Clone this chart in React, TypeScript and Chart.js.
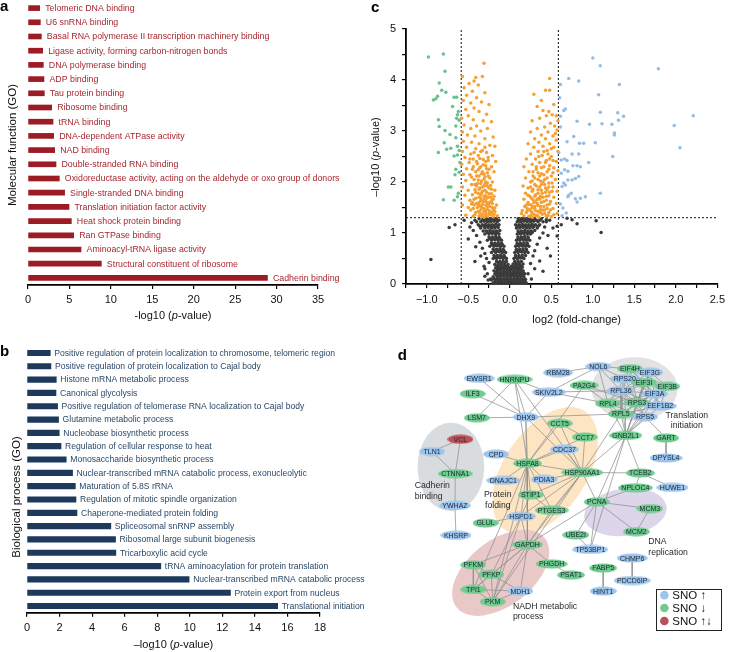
import React, { useEffect, useRef } from 'react';
import { Chart, registerables } from 'chart.js';

Chart.register(...registerables);

const SANS = "'Liberation Sans', Arial, Helvetica, sans-serif";
Chart.defaults.font.family = SANS;
Chart.defaults.color = '#000';

// ---------------- Panel a: molecular function (GO)
const mfTerms = [
  'Telomeric DNA binding',
  'U6 snRNA binding',
  'Basal RNA polymerase II transcription machinery binding',
  'Ligase activity, forming carbon-nitrogen bonds',
  'DNA polymerase binding',
  'ADP binding',
  'Tau protein binding',
  'Ribosome binding',
  'tRNA binding',
  'DNA-dependent ATPase activity',
  'NAD binding',
  'Double-stranded RNA binding',
  'Oxidoreductase activity, acting on the aldehyde or oxo group of donors',
  'Single-stranded DNA binding',
  'Translation initiation factor activity',
  'Heat shock protein binding',
  'Ran GTPase binding',
  'Aminoacyl-tRNA ligase activity',
  'Structural constituent of ribosome',
  'Cadherin binding',
];
const mfValues = [1.41, 1.49, 1.61, 1.77, 1.85, 1.93, 1.97, 2.86, 3.02, 3.1, 3.22, 3.38, 3.78, 4.42, 4.95, 5.23, 5.51, 6.4, 8.85, 28.9];
const mfAxisMax = 35;
const mfTickStep = 5;

// ---------------- Panel b: biological process (GO)
const bpTerms = [
  'Positive regulation of protein localization to chromosome, telomeric region',
  'Positive regulation of protein localization to Cajal body',
  'Histone mRNA metabolic process',
  'Canonical glycolysis',
  'Positive regulation of telomerase RNA localization to Cajal body',
  'Glutamine metabolic process',
  'Nucleobase biosynthetic process',
  'Regulation of cellular response to heat',
  'Monosaccharide biosynthetic process',
  'Nuclear-transcribed mRNA catabolic process, exonucleolytic',
  'Maturation of 5.8S rRNA',
  'Regulation of mitotic spindle organization',
  'Chaperone-mediated protein folding',
  'Spliceosomal snRNP assembly',
  'Ribosomal large subunit biogenesis',
  'Tricarboxylic acid cycle',
  'tRNA aminoacylation for protein translation',
  'Nuclear-transcribed mRNA catabolic process',
  'Protein export from nucleus',
  'Translational initiation',
];
const bpValues = [1.43, 1.47, 1.8, 1.78, 1.88, 1.94, 1.98, 2.09, 2.41, 2.8, 2.97, 3.01, 3.07, 5.15, 5.44, 5.46, 8.22, 9.96, 12.5, 15.4];
const bpAxisMax = 18;
const bpTickStep = 2;

// ---------------- Panel c: volcano plot  [log2 fold-change, -log10 p]
const volcanoXRange = [-1.25, 2.5];
const volcanoYRange = [0, 5];
const foldCutoff = 0.585;
const pCutoff = 1.3;

const volcanoGreen: number[][] = [
  [-0.98, 4.45], [-0.8, 4.51], [-0.78, 4.17], [-0.85, 3.94], [-0.82, 3.8], [-0.77, 3.76], [-0.87, 3.68], [-0.89, 3.63],
  [-0.92, 3.61], [-0.67, 3.66], [-0.64, 3.66], [-0.69, 3.48], [-0.62, 3.38], [-0.63, 3.32], [-0.64, 3.25], [-0.86, 3.22],
  [-0.61, 3.21], [-0.65, 3.1], [-0.85, 3.09], [-0.78, 3.01], [-0.72, 2.93], [-0.65, 2.87], [-0.79, 2.77], [-0.63, 2.7],
  [-0.71, 2.66], [-0.76, 2.64], [-0.61, 2.62], [-0.86, 2.58], [-0.63, 2.53], [-0.67, 2.51], [-0.6, 2.38], [-0.65, 2.25],
  [-0.61, 2.19], [-0.66, 2.14], [-0.71, 1.9], [-0.74, 1.9], [-0.62, 1.78], [-0.63, 1.71], [-0.8, 1.65], [-0.67, 1.64],
];

const volcanoBlue: number[][] = [
  [1.0, 4.43], [1.09, 4.28], [1.79, 4.22], [0.71, 4.03], [0.83, 3.98], [0.61, 3.91], [1.32, 3.91], [1.07, 3.71],
  [0.6, 3.65], [0.67, 3.43], [0.65, 3.4], [1.09, 3.37], [1.3, 3.36], [0.61, 3.29], [1.37, 3.29], [2.21, 3.3],
  [0.81, 3.19], [1.23, 3.13], [1.11, 3.14], [0.96, 3.13], [1.31, 3.21], [1.98, 3.11], [0.61, 3.08], [1.26, 2.96],
  [1.26, 2.92], [0.69, 2.79], [1.03, 2.77], [0.84, 2.76], [0.89, 2.76], [0.77, 2.89], [2.05, 2.67], [0.59, 2.58],
  [0.75, 2.55], [0.83, 2.55], [1.24, 2.5], [0.66, 2.45], [0.62, 2.43], [0.69, 2.42], [0.95, 2.38], [0.76, 2.32],
  [0.81, 2.32], [0.85, 2.3], [0.66, 2.24], [0.7, 2.21], [0.62, 2.17], [0.83, 2.11], [0.79, 2.07], [0.7, 2.04],
  [0.75, 2.04], [0.65, 1.98], [0.67, 1.94], [0.63, 1.91], [1.09, 1.78], [0.74, 1.78], [0.71, 1.74], [0.7, 1.71],
  [0.91, 1.71], [0.85, 1.68], [0.79, 1.67], [0.81, 1.61], [0.61, 1.57], [0.64, 1.49], [0.68, 1.39], [0.63, 1.34],
];

const volcanoOrange: number[][] = [
  // down-regulated side
  [-0.31, 4.33], [-0.33, 4.07], [-0.41, 4.05], [-0.43, 3.98], [-0.57, 4.07], [-0.49, 3.93], [-0.55, 3.85], [-0.38, 3.9],
  [-0.45, 3.78], [-0.3, 3.75], [-0.52, 3.7], [-0.4, 3.65], [-0.56, 3.6], [-0.47, 3.55], [-0.34, 3.57], [-0.25, 3.52],
  [-0.43, 3.45], [-0.53, 3.42], [-0.37, 3.38], [-0.28, 3.33], [-0.5, 3.3], [-0.58, 3.25], [-0.44, 3.22], [-0.32, 3.2],
  [-0.22, 3.18], [-0.55, 3.12], [-0.4, 3.1], [-0.47, 3.05], [-0.27, 3.05], [-0.35, 3.0], [-0.57, 2.98], [-0.51, 2.92],
  [-0.42, 2.9], [-0.2, 2.88], [-0.3, 2.85], [-0.56, 2.8], [-0.46, 2.78], [-0.37, 2.75], [-0.24, 2.72], [-0.18, 2.7],
  [-0.52, 2.68], [-0.41, 2.65], [-0.33, 2.62], [-0.28, 2.58], [-0.57, 2.6], [-0.47, 2.55], [-0.38, 2.52], [-0.21, 2.52],
  [-0.54, 2.48], [-0.44, 2.45], [-0.32, 2.44], [-0.26, 2.42], [-0.17, 2.4], [-0.49, 2.38], [-0.39, 2.36], [-0.58, 2.35],
  [-0.35, 2.3], [-0.29, 2.32], [-0.22, 2.3], [-0.52, 2.26], [-0.45, 2.25], [-0.41, 2.2], [-0.33, 2.2], [-0.27, 2.18],
  [-0.19, 2.2], [-0.56, 2.15], [-0.48, 2.14], [-0.37, 2.12], [-0.3, 2.1], [-0.24, 2.08], [-0.43, 2.05], [-0.34, 2.02],
  [-0.53, 2.03], [-0.27, 1.98], [-0.21, 2.0], [-0.39, 1.97], [-0.46, 1.95], [-0.31, 1.92], [-0.57, 1.9], [-0.36, 1.88],
  [-0.25, 1.88], [-0.42, 1.85], [-0.5, 1.84], [-0.18, 1.84], [-0.33, 1.82], [-0.28, 1.8], [-0.38, 1.78], [-0.22, 1.77],
  [-0.45, 1.75], [-0.54, 1.74], [-0.31, 1.72], [-0.26, 1.7], [-0.35, 1.68], [-0.41, 1.68], [-0.2, 1.66], [-0.48, 1.64],
  [-0.29, 1.62], [-0.24, 1.6], [-0.37, 1.6], [-0.33, 1.56], [-0.43, 1.55], [-0.57, 1.55], [-0.16, 1.55], [-0.27, 1.52],
  [-0.21, 1.5], [-0.39, 1.5], [-0.31, 1.48], [-0.35, 1.45], [-0.25, 1.44], [-0.47, 1.45], [-0.18, 1.42], [-0.29, 1.4],
  [-0.41, 1.4], [-0.33, 1.37], [-0.23, 1.36], [-0.37, 1.34], [-0.27, 1.33], [-0.53, 1.35], [-0.2, 1.32], [-0.44, 1.33],
  [-0.15, 1.34], [-0.31, 1.31], [-0.35, 2.6], [-0.29, 2.4], [-0.25, 2.25], [-0.4, 2.4], [-0.36, 2.28], [-0.31, 2.15],
  [-0.46, 2.1], [-0.4, 1.92], [-0.3, 1.95], [-0.23, 1.93], [-0.35, 1.75], [-0.28, 1.68], [-0.4, 1.58], [-0.23, 1.7],
  [-0.32, 1.62], [-0.5, 1.5], [-0.26, 1.56], [-0.36, 1.53], [-0.3, 1.44], [-0.22, 1.4], [-0.38, 1.42], [-0.45, 1.6],
  [-0.34, 1.33], [-0.29, 1.35], [-0.25, 1.38], [-0.19, 1.37], [-0.42, 1.36], [-0.36, 1.39], [-0.31, 1.42], [-0.27, 1.46],
  [-0.2, 1.45], [-0.44, 1.48], [-0.34, 1.5], [-0.24, 1.52], [-0.18, 1.49], [-0.29, 1.55], [-0.38, 1.56], [-0.21, 1.58],
  [-0.46, 1.57], [-0.27, 1.6], [-0.35, 1.63], [-0.31, 1.66], [-0.22, 1.63], [-0.43, 1.66], [-0.37, 1.7], [-0.29, 1.73],
  [-0.19, 1.72], [-0.34, 1.78], [-0.25, 1.77], [-0.41, 1.8], [-0.3, 1.84], [-0.37, 1.86], [-0.22, 1.86], [-0.33, 1.9],
  [-0.27, 1.92], [-0.42, 1.95], [-0.35, 1.97], [-0.29, 2.0], [-0.38, 2.04], [-0.31, 2.06], [-0.26, 2.12], [-0.4, 2.12],
  [-0.34, 2.16], [-0.28, 2.26], [-0.38, 2.24], [-0.44, 2.3], [-0.32, 2.34], [-0.26, 2.48], [-0.36, 2.46], [-0.43, 2.58],
  [-0.3, 2.68], [-0.48, 2.45],
  // up-regulated side
  [0.48, 4.03], [0.43, 3.8], [0.48, 3.8], [0.38, 3.6], [0.29, 3.72], [0.53, 3.52], [0.33, 3.48], [0.4, 3.4],
  [0.47, 3.38], [0.56, 3.3], [0.51, 3.32], [0.44, 3.3], [0.36, 3.25], [0.58, 3.2], [0.27, 3.2], [0.49, 3.15],
  [0.54, 3.1], [0.42, 3.08], [0.33, 3.05], [0.57, 3.02], [0.46, 2.98], [0.25, 2.98], [0.38, 2.92], [0.52, 2.9],
  [0.3, 2.85], [0.43, 2.85], [0.56, 2.82], [0.35, 2.78], [0.48, 2.75], [0.22, 2.75], [0.4, 2.7], [0.29, 2.68],
  [0.53, 2.68], [0.45, 2.62], [0.34, 2.6], [0.58, 2.6], [0.25, 2.55], [0.39, 2.52], [0.5, 2.5], [0.2, 2.45],
  [0.31, 2.45], [0.44, 2.42], [0.56, 2.4], [0.36, 2.38], [0.27, 2.35], [0.48, 2.32], [0.17, 2.3], [0.41, 2.3],
  [0.53, 2.28], [0.32, 2.25], [0.58, 2.22], [0.23, 2.2], [0.45, 2.2], [0.38, 2.16], [0.28, 2.12], [0.5, 2.12],
  [0.19, 2.08], [0.34, 2.05], [0.42, 2.05], [0.55, 2.05], [0.25, 2.0], [0.47, 1.98], [0.3, 1.95], [0.38, 1.95],
  [0.16, 1.92], [0.52, 1.9], [0.22, 1.88], [0.43, 1.88], [0.34, 1.85], [0.27, 1.82], [0.57, 1.82], [0.48, 1.8],
  [0.19, 1.78], [0.39, 1.78], [0.31, 1.75], [0.24, 1.72], [0.44, 1.72], [0.53, 1.7], [0.35, 1.68], [0.17, 1.66],
  [0.28, 1.65], [0.49, 1.62], [0.41, 1.62], [0.22, 1.6], [0.33, 1.58], [0.56, 1.58], [0.26, 1.55], [0.45, 1.55],
  [0.18, 1.52], [0.37, 1.52], [0.3, 1.48], [0.52, 1.48], [0.24, 1.46], [0.42, 1.45], [0.15, 1.44], [0.34, 1.42],
  [0.2, 1.4], [0.47, 1.4], [0.27, 1.38], [0.39, 1.37], [0.57, 1.38], [0.31, 1.34], [0.17, 1.34], [0.23, 1.33],
  [0.44, 1.33], [0.35, 1.31], [0.5, 1.32], [0.27, 1.31], [0.2, 1.55], [0.29, 1.6], [0.36, 1.9], [0.32, 2.3],
  [0.46, 2.55], [0.4, 2.0], [0.25, 1.9], [0.37, 1.72], [0.14, 1.38], [0.55, 2.95], [0.3, 1.52], [0.4, 1.45],
  [0.21, 1.48], [0.33, 1.66], [0.26, 1.42], [0.45, 1.85], [0.36, 2.12], [0.28, 2.2],
  [0.25, 1.34], [0.29, 1.37], [0.33, 1.35], [0.37, 1.4], [0.42, 1.38], [0.46, 1.35], [0.53, 1.36], [0.21, 1.43],
  [0.31, 1.44], [0.37, 1.46], [0.45, 1.48], [0.49, 1.45], [0.27, 1.5], [0.34, 1.54], [0.41, 1.52], [0.48, 1.57],
  [0.23, 1.56], [0.31, 1.62], [0.38, 1.6], [0.44, 1.64], [0.26, 1.68], [0.36, 1.66], [0.4, 1.7], [0.47, 1.73],
  [0.3, 1.72], [0.22, 1.74], [0.34, 1.78], [0.43, 1.8], [0.51, 1.82], [0.28, 1.86], [0.38, 1.84], [0.47, 1.9],
  [0.32, 1.92], [0.42, 1.95], [0.51, 1.98], [0.27, 2.02], [0.37, 2.02], [0.45, 2.08], [0.3, 2.08], [0.41, 2.14],
  [0.52, 2.18], [0.34, 2.18], [0.47, 2.25], [0.38, 2.28], [0.43, 2.38], [0.52, 2.42], [0.35, 2.5], [0.48, 2.45],
  [0.41, 2.6], [0.5, 2.65],
];

const volcanoGray: number[][] = [
  // dense core near zero
  [-0.2, 0.02], [-0.16, 0.02], [-0.12, 0.03], [-0.08, 0.02], [-0.04, 0.02], [0.0, 0.03], [0.04, 0.02], [0.08, 0.02], [0.12, 0.03], [0.16, 0.02], [0.2, 0.02],
  [-0.18, 0.05], [-0.14, 0.05], [-0.1, 0.05], [-0.06, 0.05], [-0.02, 0.05], [0.02, 0.05], [0.06, 0.05], [0.1, 0.05], [0.14, 0.05], [0.18, 0.05],
  [-0.22, 0.08], [-0.17, 0.09], [-0.13, 0.08], [-0.09, 0.08], [-0.05, 0.09], [-0.01, 0.08], [0.03, 0.08], [0.07, 0.09], [0.11, 0.08], [0.15, 0.08], [0.19, 0.09],
  [-0.19, 0.11], [-0.15, 0.11], [-0.11, 0.11], [-0.07, 0.11], [-0.03, 0.11], [0.01, 0.11], [0.05, 0.11], [0.09, 0.11], [0.13, 0.11], [0.17, 0.11],
  [-0.2, 0.14], [-0.15, 0.14], [-0.11, 0.15], [-0.07, 0.14], [-0.03, 0.14], [0.01, 0.15], [0.05, 0.14], [0.09, 0.14], [0.13, 0.15], [0.17, 0.14],
  [-0.16, 0.17], [-0.12, 0.17], [-0.08, 0.17], [-0.04, 0.17], [0.0, 0.17], [0.04, 0.17], [0.08, 0.17], [0.12, 0.17], [0.16, 0.17],
  [-0.18, 0.2], [-0.14, 0.21], [-0.1, 0.2], [-0.06, 0.2], [-0.02, 0.21], [0.02, 0.2], [0.06, 0.2], [0.1, 0.21], [0.14, 0.2], [0.18, 0.2],
  [-0.16, 0.23], [-0.12, 0.23], [-0.08, 0.23], [-0.04, 0.23], [0.0, 0.23], [0.04, 0.23], [0.08, 0.23], [0.12, 0.23], [0.16, 0.23],
  [-0.19, 0.26], [-0.15, 0.26], [-0.11, 0.27], [-0.07, 0.26], [-0.03, 0.26], [0.01, 0.27], [0.05, 0.26], [0.09, 0.26], [0.13, 0.27], [0.16, 0.26],
  [-0.15, 0.29], [-0.11, 0.29], [-0.07, 0.29], [-0.03, 0.29], [0.01, 0.29], [0.05, 0.29], [0.09, 0.29], [0.13, 0.29],
  [-0.17, 0.32], [-0.13, 0.32], [-0.09, 0.33], [-0.05, 0.32], [-0.01, 0.32], [0.03, 0.33], [0.07, 0.32], [0.11, 0.32], [0.15, 0.33],
  [-0.15, 0.35], [-0.11, 0.35], [-0.07, 0.35], [-0.03, 0.35], [0.02, 0.35], [0.06, 0.35], [0.1, 0.35], [0.14, 0.35],
  [-0.18, 0.38], [-0.14, 0.38], [-0.1, 0.39], [-0.06, 0.38], [-0.02, 0.38], [0.04, 0.39], [0.08, 0.38], [0.12, 0.38], [0.16, 0.39],
  [-0.14, 0.41], [-0.1, 0.41], [-0.06, 0.41], [0.07, 0.41], [0.11, 0.41],
  [-0.16, 0.44], [-0.12, 0.44], [-0.08, 0.45], [-0.04, 0.44], [0.06, 0.44], [0.1, 0.45], [0.14, 0.44],
  // left arm
  [-0.2, 0.5], [-0.16, 0.5], [-0.12, 0.51], [-0.08, 0.5], [-0.04, 0.5],
  [-0.18, 0.53], [-0.14, 0.53], [-0.1, 0.53], [-0.06, 0.53],
  [-0.19, 0.56], [-0.15, 0.56], [-0.11, 0.57], [-0.07, 0.56],
  [-0.22, 0.62], [-0.17, 0.62], [-0.13, 0.63], [-0.09, 0.62], [-0.05, 0.62],
  [-0.19, 0.65], [-0.15, 0.65], [-0.11, 0.65], [-0.07, 0.65],
  [-0.2, 0.68], [-0.16, 0.68], [-0.12, 0.69], [-0.08, 0.68],
  [-0.24, 0.74], [-0.19, 0.74], [-0.15, 0.75], [-0.11, 0.74], [-0.07, 0.74],
  [-0.21, 0.77], [-0.17, 0.77], [-0.13, 0.77], [-0.09, 0.77],
  [-0.22, 0.8], [-0.18, 0.8], [-0.14, 0.81], [-0.1, 0.8],
  [-0.27, 0.86], [-0.22, 0.86], [-0.18, 0.87], [-0.14, 0.86], [-0.1, 0.86],
  [-0.24, 0.89], [-0.2, 0.89], [-0.16, 0.89], [-0.12, 0.89],
  [-0.25, 0.92], [-0.21, 0.92], [-0.17, 0.93], [-0.13, 0.92],
  [-0.3, 0.98], [-0.25, 0.98], [-0.21, 0.99], [-0.17, 0.98], [-0.13, 0.98],
  [-0.27, 1.01], [-0.23, 1.01], [-0.19, 1.01], [-0.15, 1.01],
  [-0.32, 1.04], [-0.28, 1.04], [-0.24, 1.05], [-0.2, 1.04], [-0.16, 1.04], [-0.12, 1.05],
  [-0.35, 1.1], [-0.3, 1.1], [-0.26, 1.11], [-0.22, 1.1], [-0.18, 1.1], [-0.14, 1.11],
  [-0.36, 1.13], [-0.31, 1.13], [-0.27, 1.13], [-0.23, 1.13], [-0.19, 1.13], [-0.15, 1.13],
  [-0.38, 1.16], [-0.33, 1.16], [-0.29, 1.17], [-0.25, 1.16], [-0.21, 1.16], [-0.17, 1.17], [-0.13, 1.16],
  [-0.4, 1.22], [-0.35, 1.22], [-0.31, 1.23], [-0.27, 1.22], [-0.23, 1.22], [-0.19, 1.23], [-0.15, 1.22],
  [-0.42, 1.25], [-0.33, 1.25], [-0.29, 1.25], [-0.25, 1.25], [-0.21, 1.25], [-0.17, 1.25], [-0.13, 1.25],
  [-0.37, 1.28], [-0.32, 1.28], [-0.28, 1.28], [-0.24, 1.28], [-0.2, 1.28], [-0.16, 1.28],
  [-0.46, 1.2], [-0.44, 1.05], [-0.4, 0.95], [-0.36, 0.82], [-0.33, 0.7], [-0.3, 0.6], [-0.28, 0.5], [-0.25, 0.42],
  [-0.3, 0.3], [-0.27, 0.2], [-0.42, 0.44], [-0.5, 0.88], [-0.41, 0.73], [-0.31, 0.35], [-0.23, 0.1], [-0.35, 0.55],
  [-0.95, 0.48], [-0.73, 1.11], [-0.66, 1.16], [-0.55, 1.25], [-0.48, 1.12], [-0.26, 0.08], [-0.3, 0.15],
  // right arm
  [0.05, 0.5], [0.09, 0.5], [0.13, 0.51], [0.17, 0.5],
  [0.07, 0.53], [0.11, 0.53], [0.15, 0.53],
  [0.07, 0.56], [0.11, 0.56], [0.15, 0.57], [0.19, 0.56],
  [0.06, 0.62], [0.1, 0.62], [0.14, 0.63], [0.18, 0.62], [0.22, 0.62],
  [0.08, 0.65], [0.12, 0.65], [0.16, 0.65], [0.2, 0.65],
  [0.08, 0.68], [0.12, 0.68], [0.16, 0.69], [0.2, 0.68],
  [0.07, 0.74], [0.11, 0.74], [0.15, 0.75], [0.19, 0.74], [0.23, 0.74],
  [0.09, 0.77], [0.13, 0.77], [0.17, 0.77], [0.21, 0.77],
  [0.09, 0.8], [0.13, 0.8], [0.17, 0.81], [0.21, 0.8],
  [0.08, 0.86], [0.12, 0.86], [0.16, 0.87], [0.2, 0.86], [0.24, 0.86],
  [0.1, 0.89], [0.14, 0.89], [0.18, 0.89], [0.22, 0.89],
  [0.1, 0.92], [0.14, 0.92], [0.18, 0.93], [0.22, 0.92],
  [0.09, 0.98], [0.13, 0.98], [0.17, 0.99], [0.21, 0.98], [0.25, 0.98],
  [0.11, 1.01], [0.15, 1.01], [0.19, 1.01], [0.23, 1.01], [0.27, 1.01],
  [0.1, 1.04], [0.14, 1.04], [0.18, 1.05], [0.22, 1.04], [0.26, 1.04], [0.3, 1.05],
  [0.08, 1.1], [0.12, 1.1], [0.16, 1.11], [0.2, 1.1], [0.24, 1.1], [0.28, 1.11], [0.33, 1.1],
  [0.09, 1.13], [0.13, 1.13], [0.17, 1.13], [0.21, 1.13], [0.25, 1.13], [0.29, 1.13], [0.34, 1.13],
  [0.07, 1.16], [0.11, 1.16], [0.15, 1.17], [0.19, 1.16], [0.23, 1.16], [0.27, 1.17], [0.31, 1.16], [0.36, 1.16],
  [0.09, 1.22], [0.13, 1.22], [0.17, 1.23], [0.21, 1.22], [0.25, 1.22], [0.29, 1.23], [0.34, 1.22], [0.4, 1.22],
  [0.11, 1.25], [0.15, 1.25], [0.19, 1.25], [0.23, 1.25], [0.27, 1.25], [0.32, 1.25], [0.36, 1.25], [0.44, 1.26],
  [0.1, 1.28], [0.14, 1.28], [0.18, 1.28], [0.22, 1.28], [0.26, 1.28], [0.3, 1.28],
  [0.44, 1.22], [0.48, 1.25], [0.52, 1.1], [0.4, 1.0], [0.36, 0.9], [0.33, 0.78], [0.3, 0.65], [0.28, 0.55],
  [0.25, 0.4], [0.3, 0.3], [0.22, 0.2], [0.36, 0.45], [0.49, 0.55], [0.57, 0.94], [0.57, 1.13], [0.62, 1.16],
  [0.69, 1.29], [0.75, 1.26], [0.81, 1.18], [1.04, 1.24], [1.1, 1.01], [0.45, 0.7], [0.4, 0.25], [0.26, 0.1],
  [0.42, 1.12], [0.38, 1.28], [0.46, 0.95],
];

// ---------------- Panel d: S-nitrosylation network
const nodeNames = [
  'NOL6', 'EIF4H', 'EIF3G', 'RBM28', 'EWSR1', 'HNRNPU', 'RPS20', 'EIF3I', 'EIF3B', 'PA2G4',
  'SKIV2L2', 'ILF3', 'RPL36', 'EIF3A', 'RPL4', 'RPS3', 'EEF1B2', 'LSM7', 'DHX9', 'RPL5',
  'RPS5', 'CCT5', 'VCL', 'CCT7', 'GNB2L1', 'GART', 'TLN1', 'CPD', 'CDC37', 'DPYSL4',
  'HSPA8', 'CTNNA1', 'HSP90AA1', 'TCEB2', 'DNAJC1', 'PDIA3', 'NPLOC4', 'HUWE1', 'STIP1', 'PCNA',
  'YWHAZ', 'PTGES3', 'MCM3', 'HSPD1', 'GLUL', 'MCM2', 'UBE2I', 'KHSRP', 'GAPDH', 'TP53BP1',
  'CHMP6', 'PFKM', 'PHGDH', 'FABP5', 'PFKP', 'PSAT1', 'PDCD6IP', 'TPI1', 'MDH1', 'HINT1', 'PKM',
];
const nodeX = [
  600, 632.7, 653.3, 558.3, 476.7, 513.3, 627.3, 647.3, 671.3, 585.3,
  548.7, 470, 623.3, 658.3, 610, 640, 664, 474.3, 525, 623.3,
  648.3, 560, 457.3, 586, 628.3, 670, 428, 494.3, 565, 670,
  526.7, 452, 583.3, 643.3, 501.7, 544, 638.3, 676.7, 530, 598.3,
  451.7, 551.7, 653.3, 520, 483.3, 639.3, 576.7, 452.7, 526.7, 591.7,
  635, 470.7, 551.7, 605, 489.3, 571.7, 635, 470.7, 519.3, 605, 490.7,
];
const nodeY = [
  361.7, 364, 367.7, 368, 374, 375, 374.3, 378.3, 382.3, 381.3,
  388.3, 390, 386.7, 390, 400, 399.3, 402.7, 415, 414.3, 411,
  414, 420.7, 437.3, 435, 433.3, 436, 450, 452.7, 447.7, 456.7,
  462.3, 473, 471.7, 472.3, 480, 479, 487.7, 487.3, 495, 502.3,
  506, 511, 509.3, 517.3, 524.3, 533.3, 536.7, 537, 546.7, 551.7,
  560.7, 567.7, 566.7, 571, 577.7, 578.3, 584, 593.3, 595, 595, 606,
];
// 'u' = SNO up, 'd' = SNO down, 'b' = both
const nodeKind = [
  'u', 'd', 'u', 'u', 'u', 'd', 'u', 'd', 'd', 'd',
  'u', 'd', 'u', 'u', 'd', 'd', 'u', 'd', 'u', 'd',
  'u', 'd', 'b', 'd', 'd', 'd', 'u', 'u', 'u', 'u',
  'd', 'd', 'd', 'd', 'u', 'u', 'd', 'u', 'd', 'd',
  'u', 'd', 'd', 'u', 'd', 'd', 'd', 'u', 'd', 'u',
  'u', 'd', 'd', 'd', 'd', 'd', 'u', 'd', 'u', 'u', 'd',
];
const edges: [string, string][] = [
  ['NOL6', 'RPS20'], ['NOL6', 'RPL36'], ['NOL6', 'EIF4H'], ['NOL6', 'RBM28'], ['NOL6', 'SKIV2L2'], ['NOL6', 'RPL4'],
  ['EIF4H', 'EIF3G'], ['EIF4H', 'EIF3I'], ['EIF4H', 'RPS20'], ['EIF4H', 'EIF3B'], ['EIF4H', 'EIF3A'], ['EIF4H', 'RPS3'],
  ['EIF3G', 'EIF3I'], ['EIF3G', 'EIF3B'], ['EIF3G', 'EIF3A'], ['EIF3G', 'RPS3'], ['EIF3G', 'RPL36'],
  ['RPS20', 'EIF3I'], ['RPS20', 'RPL36'], ['RPS20', 'RPL4'], ['RPS20', 'RPS3'], ['RPS20', 'RPL5'], ['RPS20', 'EIF3A'],
  ['EIF3I', 'EIF3B'], ['EIF3I', 'EIF3A'], ['EIF3I', 'RPL36'], ['EIF3I', 'RPS3'], ['EIF3I', 'EEF1B2'], ['EIF3I', 'RPL4'],
  ['EIF3B', 'EIF3A'], ['EIF3B', 'EEF1B2'], ['EIF3B', 'RPS3'],
  ['RPL36', 'RPL4'], ['RPL36', 'RPS3'], ['RPL36', 'RPL5'], ['RPL36', 'EIF3A'], ['RPL36', 'RPS5'], ['RPL36', 'EEF1B2'],
  ['EIF3A', 'RPS3'], ['EIF3A', 'EEF1B2'], ['EIF3A', 'RPL5'], ['EIF3A', 'RPL4'],
  ['RPL4', 'RPS3'], ['RPL4', 'RPL5'], ['RPL4', 'RPS5'], ['RPL4', 'EEF1B2'],
  ['RPS3', 'RPL5'], ['RPS3', 'RPS5'], ['RPS3', 'EEF1B2'], ['RPL5', 'RPS5'], ['RPL5', 'EEF1B2'],
  ['GNB2L1', 'RPL5'], ['GNB2L1', 'RPS3'], ['GNB2L1', 'RPL4'], ['GNB2L1', 'RPS5'], ['GNB2L1', 'RPL36'], ['GNB2L1', 'EIF3A'],
  ['GNB2L1', 'EIF3I'], ['GNB2L1', 'RPS20'], ['GNB2L1', 'EEF1B2'], ['GNB2L1', 'EIF3B'], ['GNB2L1', 'EIF3G'],
  ['RPS5', 'GART'], ['GART', 'DPYSL4'],
  ['SKIV2L2', 'RPL36'], ['SKIV2L2', 'RPL4'], ['PA2G4', 'RPL4'], ['PA2G4', 'HSPA8'], ['PA2G4', 'RPS3'],
  ['HNRNPU', 'LSM7'], ['HNRNPU', 'DHX9'], ['HNRNPU', 'SKIV2L2'], ['HNRNPU', 'HSPA8'], ['HNRNPU', 'HSP90AA1'],
  ['EWSR1', 'DHX9'], ['ILF3', 'DHX9'], ['LSM7', 'DHX9'],
  ['DHX9', 'SKIV2L2'], ['DHX9', 'HSPA8'], ['DHX9', 'HSP90AA1'], ['DHX9', 'RPL5'], ['DHX9', 'GAPDH'],
  ['CCT5', 'CCT7'], ['CCT5', 'HSPA8'], ['CCT5', 'HSP90AA1'], ['CCT7', 'HSP90AA1'], ['CCT7', 'HSPA8'],
  ['CDC37', 'HSP90AA1'], ['CDC37', 'HSPA8'], ['CPD', 'HSPA8'],
  ['HSPA8', 'HSP90AA1'], ['HSPA8', 'STIP1'], ['HSPA8', 'HSPD1'], ['HSPA8', 'GAPDH'], ['HSPA8', 'PDIA3'],
  ['HSPA8', 'DNAJC1'], ['HSPA8', 'PTGES3'], ['HSPA8', 'PKM'], ['HSPA8', 'TPI1'],
  ['HSP90AA1', 'STIP1'], ['HSP90AA1', 'PTGES3'], ['HSP90AA1', 'HSPD1'], ['HSP90AA1', 'GAPDH'], ['HSP90AA1', 'PCNA'],
  ['HSP90AA1', 'TCEB2'], ['HSP90AA1', 'GNB2L1'], ['HSP90AA1', 'RPL5'], ['HSP90AA1', 'PDIA3'], ['HSP90AA1', 'PKM'],
  ['GNB2L1', 'TCEB2'], ['GNB2L1', 'PCNA'], ['GNB2L1', 'TP53BP1'], ['TCEB2', 'HUWE1'], ['TCEB2', 'NPLOC4'],
  ['PCNA', 'NPLOC4'], ['PCNA', 'MCM3'], ['PCNA', 'MCM2'], ['MCM3', 'MCM2'], ['PCNA', 'UBE2I'], ['PCNA', 'TP53BP1'],
  ['PCNA', 'GAPDH'], ['UBE2I', 'TP53BP1'],
  ['STIP1', 'PTGES3'], ['STIP1', 'HSPD1'], ['HSPD1', 'GLUL'], ['HSPD1', 'PFKP'], ['HSPD1', 'GAPDH'], ['HSPD1', 'PKM'],
  ['PTGES3', 'GAPDH'],
  ['GAPDH', 'PFKM'], ['GAPDH', 'PFKP'], ['GAPDH', 'TPI1'], ['GAPDH', 'PKM'], ['GAPDH', 'MDH1'], ['GAPDH', 'PHGDH'],
  ['PHGDH', 'PSAT1'], ['PFKM', 'PFKP'], ['PFKM', 'TPI1'], ['PFKM', 'PKM'], ['PFKP', 'TPI1'], ['PFKP', 'PKM'],
  ['TPI1', 'PKM'], ['TPI1', 'MDH1'], ['PKM', 'MDH1'], ['PFKP', 'MDH1'],
  ['FABP5', 'HINT1'], ['CHMP6', 'PDCD6IP'],
  ['VCL', 'CTNNA1'], ['TLN1', 'VCL'], ['TLN1', 'CTNNA1'], ['CTNNA1', 'YWHAZ'], ['YWHAZ', 'KHSRP'],
];
const regionNames = ['Translation initiation', 'Cadherin binding', 'Protein folding', 'DNA replication', 'NADH metabolic process'];
const regionLines = [['Translation', 'initiation'], ['Cadherin', 'binding'], ['Protein', 'folding'], ['DNA', 'replication'], ['NADH metabolic', 'process']];
const legendLabels = ['SNO \u2191', 'SNO \u2193', 'SNO \u2191\u2193'];

// ---------------- colours
const RED_BAR = '#9c1b24';
const RED_TEXT = '#a8262f';
const NAVY_BAR = '#1d3a5c';
const NAVY_TEXT = '#2a4868';
const C_GREEN = '#66c38b';
const C_ORANGE = '#f6a033';
const C_BLUE = '#93bde6';
const C_GRAY = '#3b3b3b';
const NODE_FILL: Record<string, string> = { u: '#9dc4ec', d: '#70cb8f', b: '#b8505a' };

// ---------------- helpers
type Part = [string, string];
type TextItem = { parts: Part[]; x: number; y: number; size: number; rot?: number; align?: 'left' | 'center' | 'right'; color?: string };

function drawRich(ctx: CanvasRenderingContext2D, t: TextItem) {
  ctx.save();
  ctx.translate(t.x, t.y);
  if (t.rot) ctx.rotate(t.rot);
  ctx.fillStyle = t.color || '#111';
  ctx.textBaseline = 'middle';
  ctx.textAlign = 'left';
  const fonts = t.parts.map((p) => `${p[1] === 'i' ? 'italic ' : ''}${p[1] === 'b' ? 'bold ' : ''}${t.size}px ${SANS}`);
  let total = 0;
  const widths = t.parts.map((p, i) => {
    ctx.font = fonts[i];
    const w = ctx.measureText(p[0]).width;
    total += w;
    return w;
  });
  let x = t.align === 'left' ? 0 : t.align === 'right' ? -total : -total / 2;
  t.parts.forEach((p, i) => {
    ctx.font = fonts[i];
    ctx.fillText(p[0], x, 0);
    x += widths[i];
  });
  ctx.restore();
}

function textPlugin(items: TextItem[]) {
  return {
    id: 'texts',
    afterDraw(chart: any) {
      items.forEach((t) => drawRich(chart.ctx, t));
    },
  };
}

function barLabelPlugin(labels: string[], color: string, gap: number, size: number) {
  return {
    id: 'barLabels',
    afterDatasetsDraw(chart: any) {
      const ctx = chart.ctx as CanvasRenderingContext2D;
      const meta = chart.getDatasetMeta(0);
      ctx.save();
      ctx.font = `${size}px ${SANS}`;
      ctx.fillStyle = color;
      ctx.textBaseline = 'middle';
      ctx.textAlign = 'left';
      meta.data.forEach((el: any, i: number) => ctx.fillText(labels[i], el.x + gap, el.y + 0.5));
      ctx.restore();
    },
  };
}

// ---------------- bar panels
type BarProps = {
  terms: string[]; values: number[]; max: number; step: number; barColor: string; textColor: string;
  top: number; width: number; height: number; padTop: number; padRight: number; leftW: number; axisH: number;
  tickPad: number; gap: number; thickness: number; labelSize: number; texts: TextItem[];
};

function GOBars(p: BarProps) {
  const ref = useRef<HTMLCanvasElement>(null);
  useEffect(() => {
    const chart = new Chart(ref.current as HTMLCanvasElement, {
      type: 'bar',
      data: { labels: p.terms, datasets: [{ data: p.values, backgroundColor: p.barColor, barThickness: p.thickness }] },
      options: {
        indexAxis: 'y',
        responsive: false,
        animation: false,
        events: [],
        layout: { padding: { top: p.padTop, right: p.padRight, left: 0, bottom: 0 } },
        scales: {
          x: {
            type: 'linear', min: 0, max: p.max,
            ticks: { stepSize: p.step, font: { size: 11, family: SANS }, color: '#111', padding: p.tickPad, maxRotation: 0 },
            grid: { drawOnChartArea: false, drawTicks: true, tickLength: 4, color: '#000', lineWidth: 1.2 },
            border: { display: true, color: '#000', width: 1.8 },
            afterFit: (s: any) => { s.height = p.axisH; },
          },
          y: {
            grid: { display: false }, border: { display: false }, ticks: { display: false },
            afterFit: (s: any) => { s.width = p.leftW; },
          },
        },
        plugins: { legend: { display: false }, tooltip: { enabled: false } },
      } as any,
      plugins: [barLabelPlugin(p.terms, p.textColor, p.gap, p.labelSize), textPlugin(p.texts)],
    });
    return () => chart.destroy();
  }, []);
  return <canvas ref={ref} width={p.width} height={p.height} style={{ position: 'absolute', left: 0, top: p.top }} />;
}

// ---------------- volcano
function Volcano() {
  const ref = useRef<HTMLCanvasElement>(null);
  useEffect(() => {
    const toPts = (arr: number[][]) => arr.map((d) => ({ x: d[0], y: d[1] }));
    const dash = (pts: number[][]) => ({
      data: toPts(pts), showLine: true, borderColor: '#111', borderWidth: 1, borderDash: [2, 2], pointRadius: 0, fill: false,
    });
    const pt = (arr: number[][], c: string) => ({ data: toPts(arr), backgroundColor: c, borderWidth: 0, pointRadius: 1.75 });
    const chart = new Chart(ref.current as HTMLCanvasElement, {
      type: 'scatter',
      data: {
        datasets: [
          pt(volcanoBlue, C_BLUE),
          pt(volcanoGreen, C_GREEN),
          pt(volcanoOrange, C_ORANGE),
          pt(volcanoGray, C_GRAY),
          dash([[-foldCutoff, volcanoYRange[0]], [-foldCutoff, volcanoYRange[1]]]),
          dash([[foldCutoff, volcanoYRange[0]], [foldCutoff, volcanoYRange[1]]]),
          dash([[volcanoXRange[0], pCutoff], [volcanoXRange[1], pCutoff]]),
        ] as any,
      },
      options: {
        responsive: false,
        animation: false,
        events: [],
        layout: { padding: { top: 29, right: 8.3, left: 0, bottom: 0 } },
        scales: {
          x: {
            type: 'linear', min: volcanoXRange[0], max: volcanoXRange[1],
            ticks: {
              stepSize: 0.25, autoSkip: false, maxRotation: 0, font: { size: 11, family: SANS }, color: '#111', padding: 5,
              callback: (v: any) => (Math.abs(v * 2 - Math.round(v * 2)) < 1e-6 ? (v < 0 ? '\u2212' + Math.abs(v).toFixed(1) : Number(v).toFixed(1)) : ''),
            },
            grid: { drawOnChartArea: false, drawTicks: true, tickLength: 4, color: '#000', lineWidth: 1.2 },
            border: { display: true, color: '#000', width: 1.8 },
            afterFit: (s: any) => { s.height = 46; },
          },
          y: {
            type: 'linear', min: volcanoYRange[0], max: volcanoYRange[1],
            ticks: {
              stepSize: 0.5, autoSkip: false, font: { size: 11, family: SANS }, color: '#111', padding: 6,
              callback: (v: any) => (Math.abs(v - Math.round(v)) < 1e-6 ? String(Math.round(v)) : ''),
            },
            grid: { drawOnChartArea: false, drawTicks: true, tickLength: 4, color: '#000', lineWidth: 1.2 },
            border: { display: true, color: '#000', width: 1.8 },
            afterFit: (s: any) => { s.width = 36; },
          },
        },
        plugins: { legend: { display: false }, tooltip: { enabled: false } },
      } as any,
      plugins: [
        textPlugin([
          { parts: [['c', 'b']], x: 1, y: 8, size: 15, align: 'left', color: '#000' },
          { parts: [['\u2013log10 (', ''], ['p', 'i'], ['-value)', '']], x: 6, y: 157, size: 11, rot: -Math.PI / 2, color: '#111' },
          { parts: [['log2 (fold-change)', '']], x: 206.7, y: 320, size: 11, color: '#111' },
        ]),
      ],
    });
    return () => chart.destroy();
  }, []);
  return <canvas ref={ref} width={360} height={330} style={{ position: 'absolute', left: 370, top: 0 }} />;
}

// ---------------- network
const regionCX = [637.5, 447.5, 545, 628, 499];
const regionCY = [385, 466, 470, 513, 576];
const regionRX = [44.5, 34.5, 74, 43, 58];
const regionRY = [33, 46, 43, 24.5, 34];
const regionRot = [0, 0, -56, -8, -38];
const regionFill = ['#e2e2e3', '#d9dcdf', '#fde5c4', '#ddd5ea', '#e9c8c8'];
const regionTextX = [691.5, 410, 496, 651.7, 511.7];
const regionTextY = [412.7, 485.7, 495, 544, 610.7];
const regionTextAlign = ['center', 'left', 'center', 'left', 'left'];

function Network() {
  const ref = useRef<HTMLCanvasElement>(null);
  useEffect(() => {
    const measure = document.createElement('canvas').getContext('2d') as CanvasRenderingContext2D;
    measure.font = `7px ${SANS}`;
    const images = nodeNames.map((n, i) => {
      const w = Math.max(26, Math.ceil(measure.measureText(n).width + 6));
      const h = 10;
      const c = document.createElement('canvas');
      c.width = w;
      c.height = h;
      const g = c.getContext('2d') as CanvasRenderingContext2D;
      g.fillStyle = NODE_FILL[nodeKind[i]];
      g.beginPath();
      g.ellipse(w / 2, h / 2, w / 2 - 0.2, h / 2 - 0.4, 0, 0, Math.PI * 2);
      g.fill();
      return c;
    });
    const idx = (n: string) => nodeNames.indexOf(n);
    const edgeSets = edges.map(([a, b]) => ({
      data: [{ x: nodeX[idx(a)], y: nodeY[idx(a)] }, { x: nodeX[idx(b)], y: nodeY[idx(b)] }],
      showLine: true, borderColor: '#8f8f8f', borderWidth: 0.75, pointRadius: 0, clip: false,
    }));
    const nodeSet = {
      data: nodeNames.map((_, i) => ({ x: nodeX[i], y: nodeY[i] })),
      pointStyle: images, pointRadius: 5, clip: false,
    };
    const netPlugin = {
      id: 'net',
      beforeDatasetsDraw(chart: any) {
        const { ctx, scales } = chart;
        const xs = scales.x, ys = scales.y;
        regionNames.forEach((_, i) => {
          const px = xs.getPixelForValue(regionCX[i]);
          const py = ys.getPixelForValue(regionCY[i]);
          const rx = Math.abs(xs.getPixelForValue(regionCX[i] + regionRX[i]) - px);
          const ry = Math.abs(ys.getPixelForValue(regionCY[i] + regionRY[i]) - py);
          ctx.save();
          ctx.fillStyle = regionFill[i];
          ctx.beginPath();
          ctx.ellipse(px, py, rx, ry, (regionRot[i] * Math.PI) / 180, 0, Math.PI * 2);
          ctx.fill();
          ctx.restore();
        });
      },
      afterDatasetsDraw(chart: any) {
        const { ctx, scales } = chart;
        const xs = scales.x, ys = scales.y;
        ctx.save();
        ctx.font = `7px ${SANS}`;
        ctx.fillStyle = '#1b2733';
        ctx.textAlign = 'center';
        ctx.textBaseline = 'middle';
        nodeNames.forEach((n, i) => ctx.fillText(n, xs.getPixelForValue(nodeX[i]), ys.getPixelForValue(nodeY[i]) + 0.5));
        ctx.restore();
        regionLines.forEach((lines, i) => {
          lines.forEach((line, k) => {
            drawRich(ctx, {
              parts: [[line, '']], size: 8.7, color: '#2a2a2a', align: regionTextAlign[i] as any,
              x: xs.getPixelForValue(regionTextX[i]), y: ys.getPixelForValue(regionTextY[i] + k * 10.8),
            });
          });
        });
        // legend
        const lx0 = xs.getPixelForValue(659.3), ly0 = ys.getPixelForValue(592.7);
        const lx1 = xs.getPixelForValue(726.7), ly1 = ys.getPixelForValue(635);
        ctx.save();
        ctx.strokeStyle = '#222';
        ctx.lineWidth = 1;
        ctx.strokeRect(Math.round(lx0) + 0.5, Math.round(ly0) + 0.5, Math.round(lx1 - lx0), Math.round(ly1 - ly0));
        const kinds = ['u', 'd', 'b'];
        legendLabels.forEach((lab, k) => {
          const cy = ys.getPixelForValue(599.2 + k * 13.4);
          ctx.fillStyle = NODE_FILL[kinds[k]];
          ctx.beginPath();
          ctx.arc(xs.getPixelForValue(668.3), cy, 4.3, 0, Math.PI * 2);
          ctx.fill();
          drawRich(ctx, { parts: [[lab, '']], x: xs.getPixelForValue(676.5), y: cy + 0.5, size: 11.5, align: 'left', color: '#111' });
        });
        ctx.restore();
        drawRich(ctx, { parts: [['d', 'b']], x: xs.getPixelForValue(392.5), y: ys.getPixelForValue(350.5), size: 15, align: 'left', color: '#000' });
      },
    };
    const chart = new Chart(ref.current as HTMLCanvasElement, {
      type: 'scatter',
      data: { datasets: [nodeSet, ...edgeSets] as any },
      options: {
        responsive: false,
        animation: false,
        events: [],
        layout: { padding: 0 },
        scales: {
          x: { type: 'linear', min: 370, max: 730, display: false },
          y: { type: 'linear', min: 330, max: 652, reverse: true, display: false },
        },
        plugins: { legend: { display: false }, tooltip: { enabled: false } },
      } as any,
      plugins: [netPlugin],
    });
    return () => chart.destroy();
  }, []);
  return <canvas ref={ref} width={360} height={322} style={{ position: 'absolute', left: 370, top: 330 }} />;
}

export default function App() {
  return (
    <div style={{ position: 'absolute', left: 0, top: 0, width: 730, height: 652, background: '#fff', overflow: 'hidden' }}>
      <GOBars
        terms={mfTerms} values={mfValues} max={mfAxisMax} step={mfTickStep} barColor={RED_BAR} textColor={RED_TEXT}
        top={0} width={370} height={328} padTop={1} padRight={52} leftW={28} axisH={43} tickPad={4} gap={5.5}
        thickness={5} labelSize={8.8}
        texts={[
          { parts: [['a', 'b']], x: 0, y: 7, size: 15, align: 'left', color: '#000' },
          { parts: [['Molecular function (GO)', '']], x: 13, y: 145, size: 11.5, rot: -Math.PI / 2, color: '#111' },
          { parts: [['-log10 (', ''], ['p', 'i'], ['-value)', '']], x: 173, y: 316, size: 11, color: '#111' },
        ]}
      />
      <GOBars
        terms={bpTerms} values={bpValues} max={bpAxisMax} step={bpTickStep} barColor={NAVY_BAR} textColor={NAVY_TEXT}
        top={330} width={370} height={322} padTop={16.3} padRight={50} leftW={27} axisH={39.3} tickPad={5} gap={4}
        thickness={5.5} labelSize={8.6}
        texts={[
          { parts: [['b', 'b']], x: 0, y: 22, size: 15, align: 'left', color: '#000' },
          { parts: [['Biological process (GO)', '']], x: 16.5, y: 167, size: 11.5, rot: -Math.PI / 2, color: '#111' },
          { parts: [['\u2013log10 (', ''], ['p', 'i'], ['-value)', '']], x: 173.5, y: 315, size: 11, color: '#111' },
        ]}
      />
      <Volcano />
      <Network />
    </div>
  );
}
